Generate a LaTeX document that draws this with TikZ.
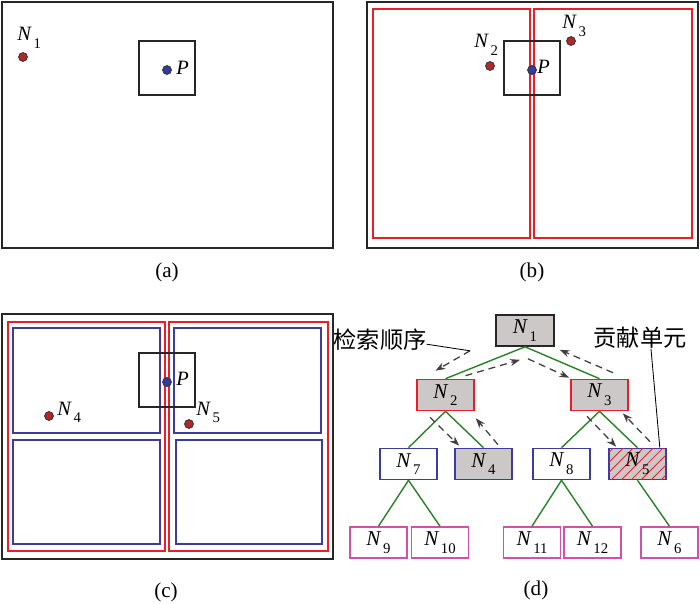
\documentclass[tikz,border=0pt]{standalone}
\usepackage{fontspec}
\setmainfont{Liberation Serif}
\newfontfamily\cjk{Noto Sans CJK SC}
\usepackage{tikz}
\usetikzlibrary{arrows.meta, positioning, patterns.meta}
\definecolor{dotred}{RGB}{176,40,40}
\definecolor{ptblue}{RGB}{50,60,160}
\definecolor{cellred}{RGB}{235,30,40}
\definecolor{cellblue}{RGB}{60,60,160}
\definecolor{leafpink}{RGB}{210,80,170}
\definecolor{edgegreen}{RGB}{40,130,40}
\definecolor{nodegray}{RGB}{205,200,200}
\definecolor{seqgray}{RGB}{70,60,60}
\newcommand{\Nsub}[1]{\textit{N}\kern1.2pt\raisebox{-5.5pt}{\fontsize{10.5}{11}\selectfont #1}}

\begin{document}
\begin{tikzpicture}[
    x=0.025cm, y=-0.025cm,
    frame/.style={draw=black!85, line width=1.2pt},
    window/.style={draw=black!85, line width=1.2pt},
    halfcell/.style={draw=cellred, line width=1.1pt},
    quartcell/.style={draw=cellblue, line width=1.2pt},
    entry/.style={circle, draw=black!80, fill=dotred, line width=0.6pt, minimum size=0.22cm, inner sep=0},
    query/.style={entry, fill=ptblue},
    lbl/.style={inner sep=0, anchor=base west, font=\fontsize{14.5}{16}\selectfont},
    caption/.style={inner sep=0, font=\fontsize{15}{17}\selectfont},
    treenode/.style={rectangle, draw, line width=1pt, minimum width=1.43cm, minimum height=0.78cm, inner sep=0, font=\fontsize{15}{17}\selectfont},
    rootnode/.style={treenode, draw=black!85, fill=nodegray, minimum width=1.45cm},
    halfnode/.style={treenode, draw=cellred, fill=nodegray},
    quartnode/.style={treenode, draw=cellblue, fill=white},
    leafnode/.style={treenode, draw=leafpink, fill=white},
    branch/.style={draw=edgegreen, line width=1pt},
    seq/.style={-{Stealth[length=7pt, width=5pt]}, draw=seqgray, dash pattern=on 5pt off 3.5pt, line width=0.9pt},
    note/.style={inner sep=0, font=\cjk\fontsize{16.5}{18}\selectfont},
    pointer/.style={draw=black, line width=0.6pt}
]
    \useasboundingbox (0,0) rectangle (700,604);

    % (a) root cell
    \draw[frame] (2,2) rectangle (333,248);
    \draw[window] (139,41) rectangle (195,95);
    \node[entry] (a1) at (23,57) {};
    \node[lbl] (a1l) at (17,41) {\Nsub{1}};
    \node[query] (ap) at (167,70) {};
    \node[lbl] (apl) at (176,75) {\textit{P}};
    \node[caption] (capa) at (167,272) {(a)};

    % (b) first split
    \draw[frame] (367,2) rectangle (698,248);
    \draw[halfcell] (373,9) rectangle (530,238);
    \draw[halfcell] (534,9) rectangle (692,238);
    \draw[window] (504,41) rectangle (560,95);
    \node[entry] (b2) at (490,66) {};
    \node[lbl] (b2l) at (474,48) {\Nsub{2}};
    \node[entry] (b3) at (571,41) {};
    \node[lbl] (b3l) at (562,29) {\Nsub{3}};
    \node[query] (bp) at (532,70) {};
    \node[lbl] (bpl) at (537,74) {\textit{P}};
    \node[caption] (capb) at (532,272) {(b)};

    % (c) second split
    \draw[frame] (2,314) rectangle (333,559);
    \draw[halfcell] (8,322) rectangle (165,551);
    \draw[halfcell] (169,322) rectangle (328,551);
    \draw[quartcell] (13,328) rectangle (160,433);
    \draw[quartcell] (13,440) rectangle (160,544);
    \draw[quartcell] (174,328) rectangle (321,433);
    \draw[quartcell] (176,440) rectangle (322,544);
    \draw[window] (139,353) rectangle (195,407);
    \node[entry] (c4) at (49,416) {};
    \node[lbl] (c4l) at (57,415) {\Nsub{4}};
    \node[entry] (c5) at (189,424) {};
    \node[lbl] (c5l) at (196,415) {\Nsub{5}};
    \node[query] (cp) at (167,382) {};
    \node[lbl] (cpl) at (176,385) {\textit{P}};
    \node[caption] (capc) at (166,592) {(c)};

    % (d) tree
    \node[rootnode] (N1) at (525,330.5) {\Nsub{1}};
    \node[halfnode] (N2) at (445.5,395) {\Nsub{2}};
    \node[halfnode] (N3) at (599.5,395) {\Nsub{3}};
    \node[quartnode] (N7) at (408.5,464) {\Nsub{7}};
    \node[quartnode, fill=nodegray] (N4) at (483.5,464) {\Nsub{4}};
    \node[quartnode] (N8) at (561.5,464) {\Nsub{8}};
    \node[quartnode, fill=nodegray, postaction={pattern={Lines[angle=45, distance=5pt, line width=0.6pt]}, pattern color=cellred}] (N5) at (637.5,464) {};
    \node[treenode, draw=none] (N5t) at (N5) {\Nsub{5}};
    \node[leafnode] (N9) at (378.5,542.5) {\Nsub{9}};
    \node[leafnode] (N10) at (440,542.5) {\Nsub{10}};
    \node[leafnode] (N11) at (532,542.5) {\Nsub{11}};
    \node[leafnode] (N12) at (592.5,542.5) {\Nsub{12}};
    \node[leafnode] (N6) at (669.5,542.5) {\Nsub{6}};
    \node[caption] (capd) at (536,590) {(d)};

    % tree edges
    \draw[branch] (N1.south) -- (N2.north);
    \draw[branch] (N1.south) -- (N3.north);
    \draw[branch] (N2.south) -- (N7.north);
    \draw[branch] (N2.south) -- (N4.north);
    \draw[branch] (N3.south) -- (N8.north);
    \draw[branch] (N3.south) -- (N5.north);
    \draw[branch] (N7.south) -- (N9.north);
    \draw[branch] (N7.south) -- (N10.north);
    \draw[branch] (N8.south) -- (N11.north);
    \draw[branch] (N8.south) -- (N12.north);
    \draw[branch] (N5.south) -- (N6.north);

    % search order
    \coordinate (s12) at ([shift={(-55,4)}]N1.south);
    \draw[seq] (s12) -- ([shift={(-10,-8)}]N2.north);
    \draw[seq] ([shift={(20,-3)}]N2.north) -- ([shift={(-5,13)}]N1.south);
    \draw[seq] ([shift={(3,12)}]N1.south) -- ([shift={(-1,-1)}]N3.north west);
    \draw[seq] ([shift={(-15.5,6)}]N2.south) -- ([shift={(5,-2)}]N4.north west);
    \draw[seq] ([shift={(14.5,-3)}]N4.north) -- ([shift={(1,7)}]N2.south east);
    \draw[seq] ([shift={(-12.5,5)}]N3.south) -- ([shift={(8,-1)}]N5.north west);
    \draw[seq] ([shift={(12.5,-6)}]N5.north) -- ([shift={(-6,2)}]N3.south east);
    \draw[seq] ([shift={(13.5,-6)}]N3.north) -- ([shift={(5,3)}]N1.south east);

    % labels
    \node[note] (order) at (380,340) {检索顺序};
    \draw[pointer] ([yshift=-3]order.east) -- (s12);
    \node[note] (unit) at (640,338) {贡献单元};
    \draw[pointer] ([shift={(11,0)}]unit.south) -- ([shift={(-7,0)}]N5.north east);

\end{tikzpicture}
\end{document}
